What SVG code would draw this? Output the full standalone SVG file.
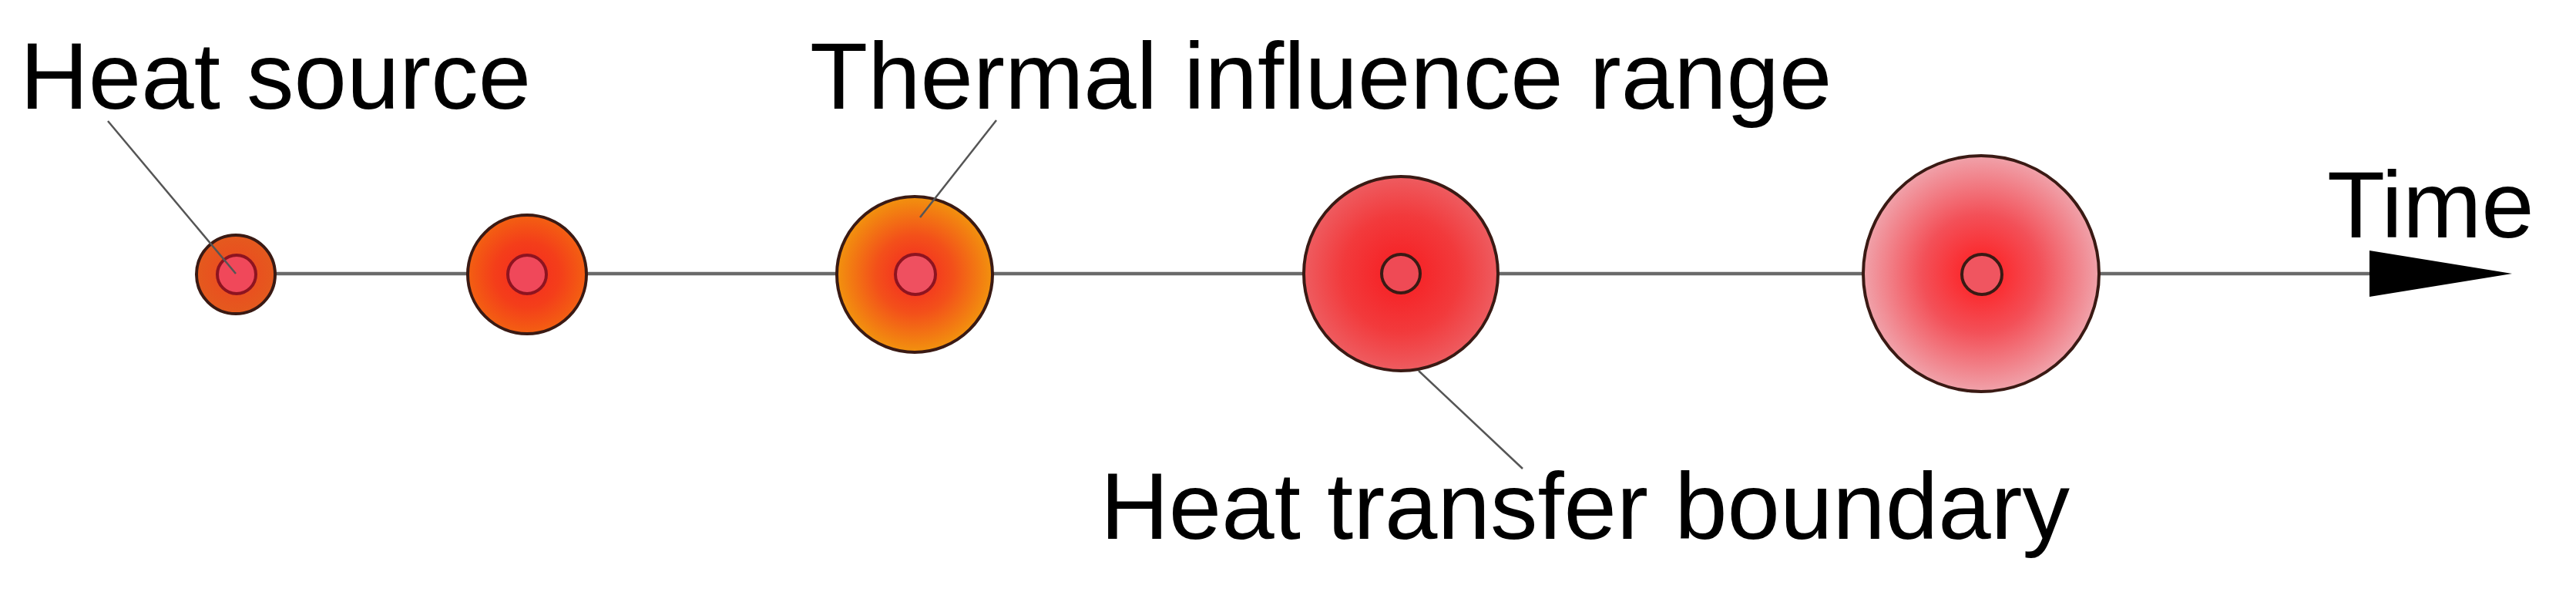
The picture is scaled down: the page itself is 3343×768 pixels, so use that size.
<svg xmlns="http://www.w3.org/2000/svg" width="3343" height="768" viewBox="0 0 3343 768">
<style>
.lbl{font-family:"Liberation Sans",Arial,sans-serif;font-size:123px;fill:#000}
.outer{stroke:#3a1a14;stroke-width:4}
.inner{stroke:#8e1420;stroke-width:4}
.leader{stroke:#555;stroke-width:2.5;fill:none}
.axis{stroke:#6a6a6a;stroke-width:4.5;fill:none}
</style>
<defs>
<radialGradient id="g1" cx="0.5" cy="0.5" r="0.5">
<stop offset="0" stop-color="#ec4a24"/>
<stop offset="0.6" stop-color="#e8521f"/>
<stop offset="1" stop-color="#e45a1e"/>
</radialGradient>
<radialGradient id="g2" cx="0.5" cy="0.5" r="0.5">
<stop offset="0" stop-color="#f52a20"/>
<stop offset="0.55" stop-color="#f43e1a"/>
<stop offset="1" stop-color="#f36012"/>
</radialGradient>
<radialGradient id="g3" cx="0.5" cy="0.5" r="0.5">
<stop offset="0" stop-color="#f52622"/>
<stop offset="0.5" stop-color="#f3501a"/>
<stop offset="1" stop-color="#f2920e"/>
</radialGradient>
<radialGradient id="g4" cx="0.5" cy="0.5" r="0.5">
<stop offset="0" stop-color="#f71c20"/>
<stop offset="0.6" stop-color="#f23a3c"/>
<stop offset="1" stop-color="#ee5c60"/>
</radialGradient>
<radialGradient id="g5" cx="0.5" cy="0.5" r="0.5">
<stop offset="0" stop-color="#ff1a1c"/>
<stop offset="0.5" stop-color="#f35058"/>
<stop offset="1" stop-color="#f0a2aa"/>
</radialGradient>
</defs>
<rect width="3343" height="768" fill="#fff"/>
<g id="axis">
<line class="axis" x1="357" y1="355" x2="3080" y2="355"/>
<polygon points="3075,325 3260,355 3075,385" fill="#000"/>
</g>
<g id="node1">
<circle class="outer" cx="306" cy="356" r="51" fill="url(#g1)"/>
<circle class="inner" cx="307" cy="356" r="25" fill="#f0485a"/>
</g>
<g id="node2">
<circle class="outer" cx="684" cy="356" r="77" fill="url(#g2)"/>
<circle class="inner" cx="684" cy="356" r="25" fill="#f0485a"/>
</g>
<g id="node3">
<circle class="outer" cx="1187" cy="356" r="101" fill="url(#g3)"/>
<circle class="inner" cx="1188" cy="356" r="26" fill="#ef5060"/>
</g>
<g id="node4">
<circle class="outer" cx="1818" cy="355" r="126" fill="url(#g4)"/>
<circle class="outer" cx="1818" cy="355" r="25" fill="#ef4a55"/>
</g>
<g id="node5">
<circle class="outer" cx="2571" cy="355" r="153" fill="url(#g5)"/>
<circle class="outer" cx="2572" cy="356" r="26" fill="#f05560"/>
</g>
<g id="connectors">
<line class="leader" x1="140" y1="157" x2="306" y2="355"/>
<line class="leader" x1="1293" y1="156" x2="1194" y2="282"/>
<line class="leader" x1="1841" y1="481" x2="1976" y2="608"/>
</g>
<g id="labels">
<text class="lbl" x="26" y="141">Heat source</text>
<text class="lbl" x="1051" y="141">Thermal influence range</text>
<text class="lbl" x="1428" y="699">Heat transfer boundary</text>
<text class="lbl" x="3020" y="308">Time</text>
</g>
</svg>
